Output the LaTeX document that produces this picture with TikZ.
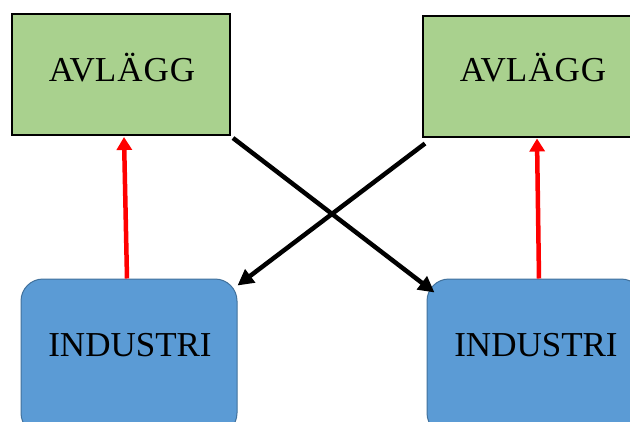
\documentclass[tikz,border=0pt]{standalone}
\usepackage{fontspec}
\setmainfont{Liberation Serif}
\usetikzlibrary{arrows.meta,calc}
\definecolor{avgreen}{HTML}{A9D18E}
\definecolor{indblue}{HTML}{5B9BD5}
\definecolor{indedge}{HTML}{41719C}
\tikzset{
  avlagg/.style={draw=black, line width=2pt, fill=avgreen, minimum width=218pt, minimum height=121pt, inner sep=0pt},
  industri/.style={draw=indedge, line width=1pt, fill=indblue, rounded corners=22pt, minimum width=216pt, minimum height=156pt, inner sep=0pt},
  lbl/.style={font=\fontsize{35}{42}\selectfont, inner sep=0pt},
  redarrow/.style={draw=red, line width=4.5pt, -{Triangle[length=13pt,width=15pt]}},
  blackarrow/.style={draw=black, line width=4.5pt, -{Triangle[length=16pt,width=16pt]}}
}
\begin{document}
\begin{tikzpicture}[x=1pt,y=1pt]
\useasboundingbox (0,0) rectangle (630,-421);
\clip (0,0) rectangle (630,-421);
% upper boxes
\node[avlagg] (a1) at (121,-74.5) {};
\node[avlagg] (a2) at (532,-76) {};
\node[lbl] (t1) at (122,-68) {AVL\kern1ptÄ\kern1ptG\kern1ptG};
\node[lbl] (t2) at (533,-68) {AVL\kern1ptÄ\kern1ptG\kern1ptG};
% lower boxes
\node[industri] (i1) at (129,-357) {};
\node[industri] (i2) at (535,-357) {};
\node[lbl] (t3) at (130,-345) {INDUSTRI};
\node[lbl] (t4) at (536,-345) {INDUSTRI};
% connectors
\draw[redarrow] ($(i1.north)+(-2,0)$) -- ($(a1.south)+(3,-1)$);
\draw[redarrow] ($(i2.north)+(4,0)$) -- ($(a2.south)+(5,-1)$);
\draw[blackarrow] ($(a1.south east)+(2,-2)$) -- ($(i2.north west)+(8,-14)$);
\draw[blackarrow] ($(a2.south west)+(3,-6)$) -- ($(i1.north east)+(0,-7)$);
\end{tikzpicture}
\end{document}
